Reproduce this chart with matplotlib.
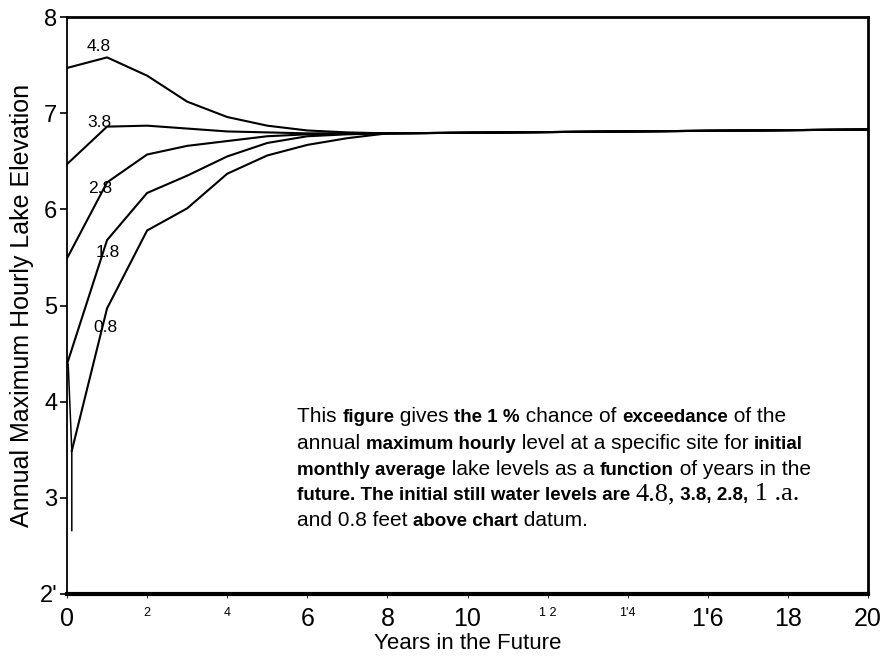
import matplotlib
matplotlib.use("Agg")
import matplotlib.pyplot as plt

# --- data -----------------------------------------------------------------
years = [0, 1, 2, 3, 4, 5, 6, 7, 8, 20]
level_48 = [7.47, 7.58, 7.39, 7.12, 6.96, 6.87, 6.82, 6.80, 6.79, 6.83]
level_38 = [6.47, 6.86, 6.87, 6.84, 6.81, 6.80, 6.79, 6.79, 6.79, 6.83]
level_28 = [5.49, 6.28, 6.57, 6.66, 6.71, 6.76, 6.78, 6.79, 6.79, 6.83]
level_18 = [4.39, 5.68, 6.17, 6.35, 6.55, 6.69, 6.76, 6.78, 6.79, 6.83]
years_08 = [0.12, 1, 2, 3, 4, 5, 6, 7, 8, 20]
level_08 = [3.49, 4.97, 5.78, 6.01, 6.37, 6.56, 6.67, 6.74, 6.79, 6.83]
# short near-vertical trace at the start of the record
start_years = [0.03, 0.12, 0.12]
start_levels = [4.39, 3.49, 2.66]

curve_labels = ["4.8", "3.8", "2.8", "1.8", "0.8"]

x_ticks = [0, 2, 4, 6, 8, 10, 12, 14, 16, 18, 20]
x_ticklabels = ["0", "2", "4", "6", "8", "10", "1 2", "1'4", "1'6", "18", "20"]
x_small = {"2", "4", "1 2", "1'4"}
y_ticks = [2, 3, 4, 5, 6, 7, 8]
y_ticklabels = ["2'", "3", "4", "5", "6", "7", "8"]

# --- fonts ----------------------------------------------------------------
SANS = "Liberation Sans"
plt.rcParams["font.family"] = [SANS, "DejaVu Sans"]

W, H = 890, 660
fig = plt.figure(figsize=(W / 100, H / 100), dpi=100)
ax = fig.add_axes([67 / W, 1 - 594 / H, (868 - 67) / W, (594 - 17) / H])

lw = 1.5
for yv in (level_48, level_38, level_28, level_18):
    ax.plot(years, yv, color="black", lw=lw, solid_joinstyle="round")
ax.plot(years_08, level_08, color="black", lw=lw, solid_joinstyle="round")
ax.plot(start_years, start_levels, color="black", lw=1.1)

label_pos = [(0.78, 7.69), (0.82, 6.90), (0.82, 6.22), (1.02, 5.55), (0.95, 4.77)]
for txt, (lx, ly) in zip(curve_labels, label_pos):
    ax.text(lx, ly, txt, fontsize=12.5, ha="center", va="center")

ax.set_xlim(0, 20)
ax.set_ylim(2, 8)

ax.set_xticks(x_ticks)
ax.set_xticklabels(x_ticklabels)
for lab in ax.get_xticklabels():
    if lab.get_text() in x_small:
        lab.set_fontsize(9)
    else:
        lab.set_fontsize(18)
ax.set_yticks(y_ticks)
ax.set_yticklabels(y_ticklabels, fontsize=17)
ax.tick_params(axis="x", direction="out", length=3, width=0.6, pad=6)
ax.tick_params(axis="y", direction="out", length=5, width=1.2, pad=2)

for side, width in (("left", 1.3), ("right", 2.0), ("top", 2.0), ("bottom", 3.0)):
    ax.spines[side].set_linewidth(width)

ax.set_ylabel("Annual Maximum Hourly Lake Elevation", fontsize=18, labelpad=4)
ax.set_xlabel("Years in the Future", fontsize=16, labelpad=2)

# --- note text, drawn as runs of mixed type ----------------------------------
fig.canvas.draw()
renderer = fig.canvas.get_renderer()

STYLES = {
    "n": dict(family=[SANS, "DejaVu Sans"], fontsize=15),
    "b": dict(family=[SANS, "DejaVu Sans"], fontsize=13.5, weight="bold"),
    "s": dict(family=["Liberation Serif", "DejaVu Serif"], fontsize=19),
}

note = [
    [("This ", "n"), ("figure", "b"), (" gives ", "n"), ("the 1 %", "b"),
     (" chance of ", "n"), ("exceedance", "b"), (" of the", "n")],
    [("annual ", "n"), ("maximum hourly", "b"), (" level at a specific site for ", "n"),
     ("initial", "b")],
    [("monthly average", "b"), (" lake levels as a ", "n"), ("function", "b"),
     (" of years in the", "n")],
    [("future. The initial still water levels are ", "b"), ("4.8,", "s"),
     (" 3.8, 2.8,", "b"), (" 1 .a.", "s")],
    [("and 0.8 feet ", "n"), ("above chart", "b"), (" datum.", "n")],
]
baselines = [422, 449, 475, 500, 526]
x0 = 297
for runs, base in zip(note, baselines):
    x = x0
    for txt, st in runs:
        t = fig.text(x / W, 1 - base / H, txt, ha="left", va="baseline", **STYLES[st])
        bb = t.get_window_extent(renderer)
        x = bb.x0 + bb.width

fig.savefig("out.png", dpi=100)
